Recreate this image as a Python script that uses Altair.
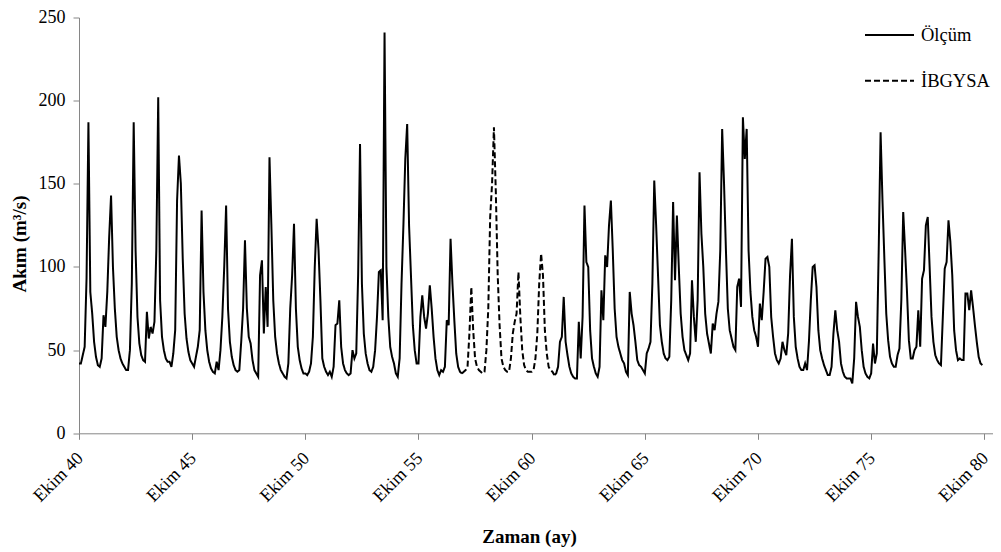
import altair as alt
import pandas as pd

# Monthly flow (m3/s), water years Oct..Sep
olcum_1940_1957 = [
    [42, 42, 47, 52, 93, 187, 85, 72, 55, 46, 41, 40],
    [45, 71, 64, 85, 118, 143, 100, 75, 58, 50, 45, 42],
    [40, 38, 38, 50, 90, 187, 110, 70, 54, 47, 44, 43],
    [73, 57, 64, 60, 67, 110, 202, 80, 58, 50, 45, 43],
    [43, 40, 48, 62, 140, 167, 150, 105, 72, 57, 49, 44],
    [42, 40, 46, 52, 62, 134, 85, 62, 50, 43, 39, 37],
    [36, 43, 38, 50, 70, 100, 137, 75, 55, 46, 41, 38],
    [37, 38, 55, 75, 116, 75, 58, 54, 44, 38, 36, 34],
    [95, 104, 60, 88, 64, 166, 125, 80, 58, 48, 42, 38],
    [36, 34, 33, 42, 75, 95, 126, 75, 52, 44, 39, 36],
    [36, 35, 37, 42, 58, 100, 129, 110, 80, 45, 40, 37],
    [35, 37, 34, 40, 65, 66, 80, 52, 42, 38, 36, 35],
    [36, 50, 45, 48, 95, 174, 90, 60, 48, 42, 38, 37],
    [40, 50, 70, 97, 98, 68, 241, 100, 70, 52, 46, 42],
    [36, 34, 45, 90, 125, 165, 186, 125, 95, 65, 50, 42],
    [42, 70, 83, 70, 63, 72, 89, 75, 58, 45, 38, 35],
    [38, 37, 40, 68, 65, 117, 90, 68, 48, 40, 37, 36],
]

# Model output (dashed), Sep 1957 .. Oct 1961
ibgysa_1957_1961 = [
    36, 37, 38, 40, 60, 88, 62, 45, 40, 38, 37, 36,
    37, 50, 75, 130, 150, 184, 145, 95, 65, 45, 40, 38,
    37, 37, 45, 60, 67, 72, 97, 70, 50, 41, 38, 37,
    37, 37, 38, 45, 60, 90, 108, 95, 62, 48, 40, 38,
    37, 35,
]

olcum_1961_1980 = [
    [35, 36, 40, 55, 58, 82, 55, 47, 40, 36, 34, 33],
    [33, 67, 45, 70, 137, 103, 100, 62, 45, 40, 36, 34],
    [40, 86, 68, 107, 100, 125, 140, 110, 75, 58, 52, 48],
    [44, 42, 37, 35, 85, 72, 65, 55, 44, 41, 40, 38],
    [36, 48, 51, 55, 90, 152, 125, 95, 65, 55, 48, 45],
    [44, 46, 80, 139, 92, 131, 100, 72, 58, 50, 47, 44],
    [48, 92, 70, 55, 80, 157, 120, 100, 72, 60, 54, 48],
    [66, 62, 72, 79, 110, 183, 150, 110, 75, 62, 57, 52],
    [50, 88, 93, 76, 190, 165, 183, 110, 85, 70, 62, 58],
    [52, 78, 68, 85, 105, 106, 100, 70, 58, 48, 44, 42],
    [45, 55, 50, 47, 60, 95, 117, 70, 52, 45, 40, 38],
    [38, 42, 38, 55, 80, 100, 101, 88, 62, 50, 45, 41],
    [38, 35, 35, 40, 60, 74, 62, 55, 42, 37, 34, 33],
    [33, 33, 30, 45, 79, 70, 64, 50, 40, 36, 34, 33],
    [36, 54, 42, 48, 110, 181, 140, 105, 72, 56, 46, 42],
    [40, 40, 47, 51, 80, 133, 110, 85, 56, 45, 45, 50],
    [52, 74, 52, 93, 98, 125, 130, 100, 70, 55, 47, 44],
    [42, 41, 70, 99, 103, 128, 115, 95, 62, 50, 44, 45],
    [44, 44, 84, 84, 74, 86, 76, 65, 55, 46, 42, 41],
]

series_names = ["Ölçüm", "İBGYSA"]
tick_months = [0, 60, 120, 180, 240, 300, 360, 420, 480]
tick_labels = ["Ekim 40", "Ekim 45", "Ekim 50", "Ekim 55", "Ekim 60",
               "Ekim 65", "Ekim 70", "Ekim 75", "Ekim 80"]
y_ticks = [0, 50, 100, 150, 200, 250]

rows = []
m = 0
for yr in olcum_1940_1957:
    for v in yr:
        rows.append({"ay": m, "akim": v, "seri": series_names[0], "parca": "a"})
        m += 1
m = 203
for v in ibgysa_1957_1961:
    rows.append({"ay": m, "akim": v, "seri": series_names[1], "parca": "b"})
    m += 1
m = 252
for yr in olcum_1961_1980:
    for v in yr:
        rows.append({"ay": m, "akim": v, "seri": series_names[0], "parca": "c"})
        m += 1
df = pd.DataFrame(rows)

label_expr = "[" + ",".join("'" + t + "'" for t in tick_labels) + "][round(datum.value / 60)]"

FONT = "Liberation Serif"

chart = alt.Chart(df).mark_line(color="black", strokeWidth=2).encode(
    x=alt.X("ay:Q",
            scale=alt.Scale(domain=[0, 484.6], nice=False, zero=False),
            axis=alt.Axis(values=tick_months, labelExpr=label_expr, title="Zaman (ay)",
                          labelAngle=315, labelAlign="right", labelBaseline="middle",
                          labelPadding=16, labelOffset=1, titleX=450, titleY=109,
                          titleBaseline="alphabetic", titleAlign="center")),
    y=alt.Y("akim:Q",
            scale=alt.Scale(domain=[0, 250], nice=False),
            axis=alt.Axis(values=y_ticks, title="Akım (m³/s)", labelPadding=8,
                          titleAngle=270, titleX=-60, titleY=226,
                          titleAlign="center", titleBaseline="middle")),
    strokeDash=alt.StrokeDash("seri:N",
                              scale=alt.Scale(domain=series_names, range=[[1, 0], [6, 3]]),
                              legend=alt.Legend(title=None, orient="none", legendX=785, legendY=-8,
                                                symbolType="stroke", symbolSize=2401,
                                                symbolStrokeWidth=2, symbolStrokeColor="black",
                                                labelFont=FONT, labelFontSize=18.5, labelColor="black",
                                                labelOffset=6, rowPadding=10.7, padding=0)),
    detail="parca:N",
    order="ay:Q",
).properties(
    width=914,
    height=415.8,
    autosize=alt.AutoSizeParams(type="none"),
    padding={"left": 71, "top": 9.5, "right": 0, "bottom": 118.7},
).configure_view(
    stroke=None
).configure_axis(
    grid=False,
    domainColor="#868686",
    tickColor="#868686",
    tickSize=6,
    labelFont=FONT,
    labelFontSize=18,
    labelColor="black",
    titleFont=FONT,
    titleFontSize=19,
    titleFontWeight="bold",
    titleColor="black",
)

chart.save("out.html", embed_options={"renderer": "svg", "actions": False})
